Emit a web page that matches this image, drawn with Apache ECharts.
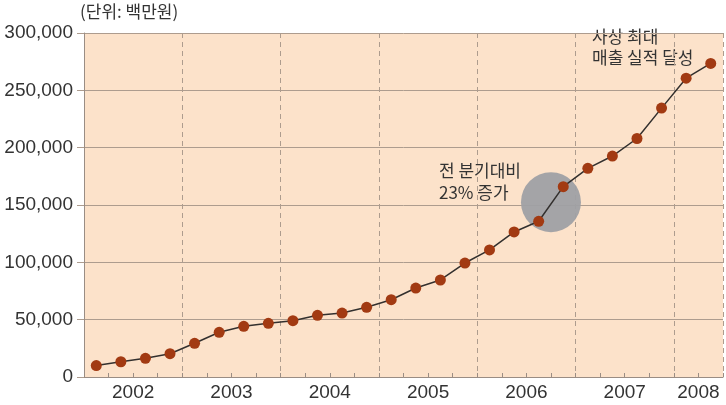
<!DOCTYPE html>
<html><head><meta charset="utf-8">
<script src="https://cdn.jsdelivr.net/npm/echarts@6/dist/echarts.min.js"></script>
<style>html,body{margin:0;padding:0;background:#fff}#c{width:726px;height:405px}</style>
</head><body><div id="c"></div>
<script>
const quarters = ['2002Q1','2002Q2','2002Q3','2002Q4','2003Q1','2003Q2','2003Q3','2003Q4',
  '2004Q1','2004Q2','2004Q3','2004Q4','2005Q1','2005Q2','2005Q3','2005Q4',
  '2006Q1','2006Q2','2006Q3','2006Q4','2007Q1','2007Q2','2007Q3','2007Q4','2008Q1','2008Q2'];
const sales = [10000,13300,16300,20300,29400,39000,44200,46800,49100,53800,55800,60800,
  67400,77600,84600,99400,110800,126500,135800,166000,182000,192700,208000,234500,260600,273500];
const years = ['2002','2003','2004','2005','2006','2007','2008'];
const yearLabelPos = [2,6,10,14,18,22,25];   // in quarter units
const highlight = [[19,152500]];
const yTicks = [0,50000,100000,150000,200000,250000,300000];

const gridColor = '#ad9c8e';
const chart = echarts.init(document.getElementById('c'));
chart.setOption({
  animation:false,
  grid:{left:84,right:-1.5,top:33,bottom:28,show:true,backgroundColor:'#fce2ca',borderWidth:0},
  xAxis:[{
    type:'value',min:0,max:quarters.length,interval:1,
    axisLine:{show:true,lineStyle:{color:'#9a8d84',width:1}},
    axisTick:{show:true,inside:true,length:4,lineStyle:{color:'#9a8d84'}},
    axisLabel:{fontSize:19,color:'#333',fontFamily:'Liberation Sans',margin:6,
      formatter:v=>{const i=yearLabelPos.indexOf(v);return i>=0?years[i]:'';}},
    splitLine:{show:false}
  },{
    type:'value',min:0,max:quarters.length,interval:4,position:'bottom',
    axisLine:{show:false},axisTick:{show:false},axisLabel:{show:false},
    splitLine:{show:true,lineStyle:{type:[5,4],color:gridColor,width:1}}
  }],
  yAxis:{
    type:'value',min:yTicks[0],max:yTicks[yTicks.length-1],interval:50000,
    axisLine:{show:true,lineStyle:{color:'#9a8d84'}},
    axisTick:{show:true,length:7,lineStyle:{color:gridColor}},
    axisLabel:{fontSize:19,color:'#333',fontFamily:'Liberation Sans',margin:11,
      formatter:v=>v.toLocaleString('en-US')},
    splitLine:{show:true,lineStyle:{color:gridColor,width:1}}
  },
  graphic:[
    {type:'text',left:80,top:3,style:{text:'(단위: 백만원)',font:'17px "Noto Sans CJK KR"',fill:'#333'}},
    {type:'text',left:439,top:160,style:{text:'전 분기대비\n23% 증가',font:'17px "Noto Sans CJK KR"',fill:'#333',lineHeight:22}},
    {type:'text',left:592,top:26,style:{text:'사상 최대\n매출 실적 달성',font:'17px "Noto Sans CJK KR"',fill:'#333',lineHeight:21}}
  ],
  series:[{
    type:'scatter',xAxisIndex:0,data:highlight,symbolSize:60,silent:true,z:1,
    itemStyle:{color:'#9fa0a4',opacity:0.95}
  },{
    type:'line',xAxisIndex:0,data:sales.map((v,i)=>[i+0.5,v]),z:3,
    symbol:'circle',symbolSize:11,
    lineStyle:{color:'#33302e',width:1.5},
    itemStyle:{color:'#a23a12',borderWidth:0}
  }]
});
</script></body></html>
